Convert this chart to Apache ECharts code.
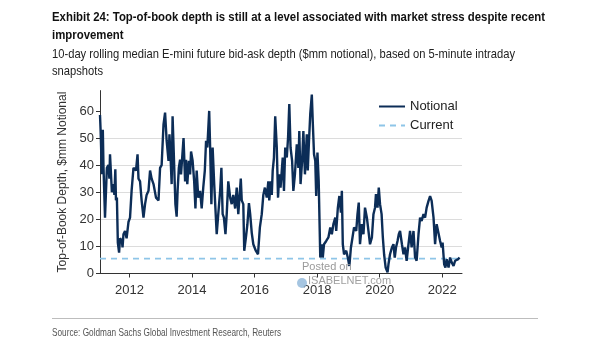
<!DOCTYPE html>
<html><head><meta charset="utf-8">
<script src="https://cdn.jsdelivr.net/npm/echarts@6/dist/echarts.min.js"></script>
<style>html,body{margin:0;padding:0;background:#fff}#c{width:605px;height:341px}</style>
</head><body><div id="c"></div>
<script>
// ---- data (decimal year, $mm notional) ----
const years = [
2011.06,2011.08,2011.12,2011.15,2011.17,2011.22,2011.28,2011.33,2011.36,2011.38,2011.44,2011.49,2011.52,2011.55,2011.57,2011.60,2011.63,2011.67,2011.70,2011.76,2011.78,2011.81,2011.86,2011.91,2011.97,
2012.02,2012.07,2012.13,2012.18,2012.21,2012.26,2012.29,2012.34,2012.39,2012.45,2012.50,2012.55,2012.61,2012.66,2012.71,2012.77,2012.85,2012.93,2012.98,
2013.03,2013.09,2013.14,2013.19,2013.25,2013.28,2013.32,2013.35,2013.38,2013.43,2013.47,2013.51,2013.54,2013.58,2013.62,2013.65,2013.73,2013.78,2013.81,2013.85,2013.90,2013.94,2013.97,
2014.02,2014.07,2014.11,2014.15,2014.20,2014.26,2014.31,2014.36,2014.41,2014.45,2014.49,2014.55,2014.58,2014.62,2014.66,2014.71,2014.79,2014.84,2014.90,2014.94,2014.98,
2015.02,2015.07,2015.11,2015.16,2015.22,2015.27,2015.32,2015.38,2015.43,2015.48,2015.56,2015.59,2015.64,2015.67,2015.72,2015.77,2015.82,2015.86,2015.91,2015.96,
2016.04,2016.11,2016.17,2016.23,2016.28,2016.33,2016.39,2016.44,2016.47,2016.52,2016.55,2016.58,2016.62,2016.66,2016.71,2016.75,2016.79,2016.83,2016.87,2016.90,2016.94,2016.98,
2017.03,2017.07,2017.11,2017.15,2017.20,2017.24,2017.29,2017.35,2017.40,2017.43,2017.47,2017.52,2017.56,2017.61,2017.67,2017.70,2017.74,2017.78,2017.83,2017.86,2017.90,2017.94,2017.97,
2018.01,2018.05,2018.10,2018.15,2018.18,2018.22,2018.29,2018.36,2018.42,2018.47,2018.52,2018.58,2018.61,2018.66,2018.71,2018.76,2018.79,2018.82,2018.86,2018.93,2018.98,
2019.03,2019.08,2019.13,2019.18,2019.25,2019.29,2019.33,2019.37,2019.43,2019.48,2019.53,2019.59,2019.64,2019.69,2019.75,2019.80,2019.85,2019.88,2019.93,2019.97,
2020.01,2020.06,2020.10,2020.14,2020.19,2020.25,2020.28,2020.33,2020.39,2020.44,2020.48,2020.52,2020.57,2020.61,2020.65,2020.71,2020.76,2020.81,2020.86,2020.92,2020.97,
2021.02,2021.08,2021.13,2021.18,2021.24,2021.29,2021.34,2021.40,2021.45,2021.50,2021.56,2021.61,2021.66,2021.72,2021.77,2021.82,2021.88,2021.93,2021.98,
2022.01,2022.06,2022.10,2022.14,2022.20,2022.25,2022.30,2022.36,2022.41,2022.46,2022.51,2022.55
];
const notional = [
58.5,52.6,36.6,53,40,20.6,39,40,35,44,30,33,29,38.5,27,28,11.4,7.7,13,12,9.6,14.5,15.7,13,19,
20.6,30.5,39,39.7,38,44,35,34,27,20.6,25.6,29,30.5,38,35,33,28,27,39,
40,55,59.4,49,41.6,51.4,41.6,33,58,40,25.6,21,30.5,39,42,36.6,50,34,42,33,41.6,36.6,45,
41.6,34,24,38,28,30.5,24,31.7,38,49,46.5,60,46.5,25.6,46.5,33,14.5,21.9,30.5,39,21.9,
20.6,14.5,21.9,34,28,25.6,29,24,31.7,21.9,35,27,25.6,8.4,13,18,26,21.9,15,10.8,
8.4,7.1,17,21.9,29,31.7,28,34,27,34,29,38,42.8,58,46.5,28,36.6,31.7,38,42.8,30.5,46.5,
42.8,50,62.5,46.5,41.6,30.5,36.6,47.7,39,52.6,33,41.6,52.6,36.6,51.4,38,49,58.8,66,56,44,41.6,28.6,
44.6,34,5.9,10.8,5.9,10.8,12,13.3,17,14.5,18.2,20.6,15.7,24,28.6,22.5,30.5,10.8,7.1,8.4,5.9,
2.8,9.6,13.3,17,15.7,21.9,26.2,10.8,18.2,14.5,24.3,20.6,15.7,10.8,13.3,21.9,24.3,29.3,24.3,31.7,
25.6,21.9,13.3,7.1,2.2,0.4,3.4,7.1,9.6,10.8,5.9,9.6,12,14.5,15.7,10.8,7.1,9.6,4.7,10.8,15.7,
9.6,15.7,5.9,4.7,14.5,20.6,19.4,21.9,20.6,24.3,26.8,28.6,26.8,20.6,10.8,18.2,18.2,12,9.6,
11.4,3.4,2.2,5.3,2.2,5.9,4.1,2.8,4.7,4.1,5.3,5.9
];
const currentLevel = 5.5;
const currentSpan = [2011.06, 2022.55];
const xTickYears = [2012, 2014, 2016, 2018, 2020, 2022];
const yTicks = [0, 10, 20, 30, 40, 50, 60];
const seriesNames = ['Notional', 'Current'];

const titleLines = ['Exhibit 24: Top-of-book depth is still at a level associated with market stress despite recent', 'improvement'];
const subtitleLines = ['10-day rolling median E-mini future bid-ask depth ($mm notional), based on 5-minute intraday', 'snapshots'];
const sourceText = 'Source: Goldman Sachs Global Investment Research, Reuters';

// ---- layout helpers ----
const FF = '"Liberation Sans", Arial, sans-serif';
const NF = '"Liberation Sans Narrow", "Liberation Sans", Arial, sans-serif';
const mctx = document.createElement('canvas').getContext('2d');
function scaleFor(text, font, target) { mctx.font = font; return target / mctx.measureText(text).width; }

const titleFont = 'bold 13.5px ' + NF;
const subFont = '13px ' + NF;
const srcFont = '10.5px ' + NF;
const tS = scaleFor(titleLines[0], titleFont, 493);
const sS = scaleFor(subtitleLines[0], subFont, 463);
const rS = scaleFor(sourceText, srcFont, 229);

function txt(text, x, y, font, fill, sx) {
  return { type: 'text', x: x, y: y, scaleX: sx, z: 10,
    style: { text: text, font: font, fill: fill, verticalAlign: 'middle', align: 'left' } };
}

const chart = echarts.init(document.getElementById('c'), null, { renderer: 'canvas' });
chart.setOption({
  animation: false,
  backgroundColor: '#fff',
  grid: { left: 100, right: 143, top: 90.6, bottom: 67.5 },
  legend: {
    orient: 'vertical', left: 373, top: 95, itemWidth: 26, itemHeight: 10, itemGap: 6,
    itemStyle: { opacity: 0 },
    textStyle: { fontSize: 13, color: '#222', fontFamily: FF },
    data: seriesNames
  },
  xAxis: {
    type: 'value', min: 2011.06, max: 2022.63,
    axisLine: { show: true, onZero: false, lineStyle: { color: '#333', width: 1 } },
    axisTick: { show: true, customValues: xTickYears, length: 4, lineStyle: { color: '#333' } },
    axisLabel: { customValues: xTickYears, formatter: v => String(v), fontSize: 13, color: '#333', fontFamily: FF, margin: 10 },
    splitLine: { show: false }
  },
  yAxis: {
    type: 'value', min: 0, max: 67.5, interval: 10,
    name: 'Top-of-Book Depth, $mm Notional', nameLocation: 'middle', nameGap: 28,
    nameTextStyle: { fontSize: 12, color: '#333', fontFamily: FF },
    axisLine: { show: true, lineStyle: { color: '#333', width: 1 } },
    axisTick: { show: true, customValues: yTicks, length: 4, lineStyle: { color: '#333' } },
    axisLabel: { customValues: yTicks, fontSize: 13, color: '#333', fontFamily: FF, margin: 6 },
    splitLine: { show: true, showMinLine: false, showMaxLine: false, lineStyle: { color: '#dcdcdc', width: 1 } }
  },
  series: [
    { name: seriesNames[0], type: 'line', symbol: 'none', z: 3,
      lineStyle: { color: '#0c2d57', width: 2.4 }, itemStyle: { color: '#0c2d57' },
      data: years.map((y, i) => [y, notional[i]]) },
    { name: seriesNames[1], type: 'line', symbol: 'none', z: 2,
      lineStyle: { color: '#8ec5e8', width: 1.6, type: [6, 5] }, itemStyle: { color: '#8ec5e8' },
      data: currentSpan.map(y => [y, currentLevel]) }
  ],
  graphic: [
    txt(titleLines[0], 52, 17, titleFont, '#111', tS),
    txt(titleLines[1], 52, 35.5, titleFont, '#111', tS),
    txt(subtitleLines[0], 52, 54, subFont, '#222', sS),
    txt(subtitleLines[1], 52, 71, subFont, '#222', sS),
    { type: 'line', z: 10, shape: { x1: 52, y1: 318.5, x2: 538, y2: 318.5 }, style: { stroke: '#bdbdbd', lineWidth: 1 } },
    txt(sourceText, 52, 333, srcFont, '#555', rS),
    { type: 'text', x: 302, y: 267, z: 20, style: { text: 'Posted on', font: '11px ' + FF, fill: '#9a9a9a', verticalAlign: 'middle' } },
    { type: 'text', x: 308, y: 281, z: 20, style: { text: 'ISABELNET.com', font: '11px ' + FF, fill: '#a0a0a0', verticalAlign: 'middle' } },
    { type: 'circle', z: 19, shape: { cx: 302, cy: 283, r: 5 }, style: { fill: '#8fb6d9', opacity: 0.8 } }
  ]
});
</script>
</body></html>
